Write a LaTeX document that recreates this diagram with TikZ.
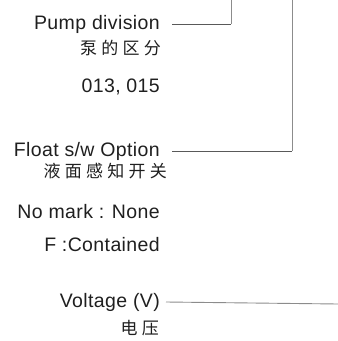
\documentclass[tikz,border=0pt]{standalone}
\usepackage{fontspec}
\setmainfont{Liberation Sans}[LetterSpace=2]
\newfontfamily\cjkfont{Noto Sans CJK SC}[LetterSpace=25]
\usetikzlibrary{positioning}

\begin{document}
\begin{tikzpicture}[
    x=1pt, y=-1pt,
    every node/.style={inner sep=0pt, text=black!88},
    label/.style={anchor=east, font=\fontsize{19.5}{22}\selectfont},
    cnlabel/.style={anchor=east, font=\cjkfont\fontsize{17}{20}\selectfont},
    lead/.style={draw=black!65, line width=0.9pt},
    leadlight/.style={draw=black!45, line width=0.9pt}
  ]
    \useasboundingbox (0,0) rectangle (338,341);

    % pump division
    \node[label] (pump) at (160,24) {Pump division};
    \node[cnlabel] (pumpcn) at (161,48) {泵的区分};
    \node[label] (pumpval) at (160,87) {013, 015};

    % float switch
    \node[label] (float) at (160,151) {Float s/w Option};
    \node[cnlabel] (floatcn) at (167,171) {液面感知开关};
    \node[label] (floatno) at (160,212) {No mark : None};
    \node[label] (floatf) at (160,245) {F :Contained};

    % voltage
    \node[label] (volt) at (160,302) {Voltage (V)};
    \node[cnlabel] (voltcn) at (159,328) {电压};

    \coordinate (pumptop) at (231,0);
    \coordinate (floattop) at (292,0);
    \coordinate (voltend) at (338,304);

    \draw[lead] ([xshift=12pt]pump.east) -- (pumptop |- pump.east);
    \draw[leadlight] (pumptop |- pump.east) -- (pumptop);
    \draw[lead] ([xshift=12pt]float.east) -- (floattop |- float.east);
    \draw[leadlight] (floattop |- float.east) -- (floattop);
    \draw[leadlight] ([xshift=6pt]volt.east) -- (voltend);
  \end{tikzpicture}
\end{document}
